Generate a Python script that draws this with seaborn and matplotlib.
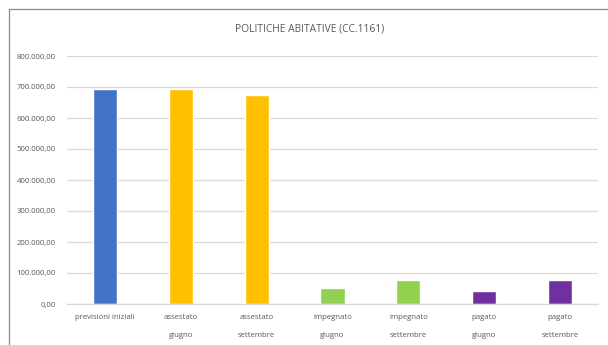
import matplotlib
matplotlib.use('Agg')
import matplotlib.pyplot as plt
import seaborn as sns
import pandas as pd
from matplotlib.ticker import FuncFormatter, FixedLocator
from matplotlib.lines import Line2D

categories = ['previsioni iniziali', 'assestato\ngiugno', 'assestato\nsettembre',
              'impegnato\ngiugno', 'impegnato\nsettembre', 'pagato\ngiugno', 'pagato\nsettembre']
values = [694000, 694000, 674000, 52500, 77500, 42500, 77500]
colors = ['#4472C4', '#FFC000', '#FFC000', '#92D050', '#92D050', '#7030A0', '#7030A0']
y_ticks = [0, 100000, 200000, 300000, 400000, 500000, 600000, 700000, 800000]

df = pd.DataFrame({'cat': categories, 'val': values})

sns.set_style('white')
plt.rcParams['font.family'] = ['Open Sans', 'DejaVu Sans']

W, H = 608, 345
fig = plt.figure(figsize=(W / 100, H / 100), dpi=100)
ax = fig.add_axes([67 / W, 1 - 304 / H, (598 - 67) / W, (304 - 56) / H])

sns.barplot(data=df, x='cat', y='val', hue='cat', palette=colors, legend=False,
            width=0.32, saturation=1, ax=ax)

ax.set_ylim(0, 800000)
ax.set_xlim(-0.5, len(categories) - 0.5)
ax.yaxis.set_major_locator(FixedLocator(y_ticks))
ax.yaxis.set_major_formatter(FuncFormatter(
    lambda v, p: f'{v:,.2f}'.replace(',', 'X').replace('.', ',').replace('X', '.')))
ax.grid(axis='y', color='#D9D9D9', linewidth=0.9)
ax.set_axisbelow(True)
for s in ['top', 'right', 'left']:
    ax.spines[s].set_visible(False)
ax.spines['bottom'].set_color('#D9D9D9')
ax.spines['bottom'].set_linewidth(0.9)
ax.set_xlabel('')
ax.set_ylabel('')

ax.tick_params(axis='y', length=0, pad=8, labelsize=5.6, labelcolor='#595959')
ax.tick_params(axis='x', which='major', length=0, pad=7, labelsize=5.6, labelcolor='#595959')
ax.set_xticks([i - 0.5 for i in range(len(categories) + 1)], minor=True)
ax.tick_params(axis='x', which='minor', length=29, color='#D9D9D9', width=0.9)
for lbl in ax.get_xticklabels():
    lbl.set_linespacing(3.3)
    lbl.set_verticalalignment('top')

fig.text(310 / W, 1 - 29 / H, 'POLITICHE ABITATIVE (CC.1161)', ha='center', va='center',
         fontsize=7.4, color='#595959')

# chart border
fig.add_artist(Line2D([9 / W, 1], [1 - 9 / H, 1 - 9 / H], color='#8C8C8C', linewidth=0.9,
                      transform=fig.transFigure))
fig.add_artist(Line2D([9 / W, 9 / W], [0, 1 - 9 / H], color='#8C8C8C', linewidth=0.9,
                      transform=fig.transFigure))

fig.savefig('out.png', dpi=100)
